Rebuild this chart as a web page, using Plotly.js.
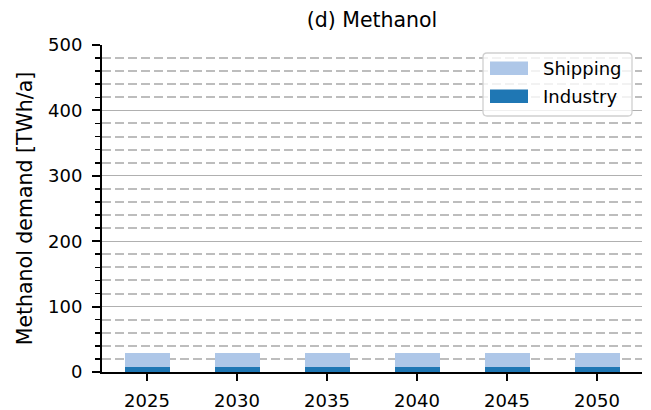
<!DOCTYPE html>
<html><head><meta charset="utf-8">
<script src="https://cdn.plot.ly/plotly-3.0.1.min.js"></script>
<style>body{margin:0;}#c{width:651px;height:410px;}</style>
</head><body><div id="c"></div>
<script>
const years = ["2025","2030","2035","2040","2045","2050"];
const industry = [7, 7, 7, 7, 7, 7];
const shipping = [22, 22, 22, 22, 22, 22];
const seriesNames = ["Industry", "Shipping"];
const colors = ["#1f77b4", "#aec7e8"];

const W = 651, H = 410, ML = 102, MR = 9, MT = 45, MB = 38;
const PW = W - ML - MR, PH = H - MT - MB;
const px = x => (x - ML) / PW;
const py = y => (H - MB - y) / PH;

const traces = [industry, shipping].map((v, i) => ({
  type: "bar", x: years, y: v, name: seriesNames[i],
  marker: {color: colors[i], line: {width: 0}}, width: 0.5, showlegend: false
}));

// legend drawn as shapes + text (matplotlib-style wide patches)
function roundRect(x0, y0, x1, y1, r) {
  const X = v => px(v), Y = v => py(v);
  return `M${X(x0 + r)},${Y(y0)} L${X(x1 - r)},${Y(y0)} Q${X(x1)},${Y(y0)} ${X(x1)},${Y(y0 + r)} ` +
    `L${X(x1)},${Y(y1 - r)} Q${X(x1)},${Y(y1)} ${X(x1 - r)},${Y(y1)} L${X(x0 + r)},${Y(y1)} ` +
    `Q${X(x0)},${Y(y1)} ${X(x0)},${Y(y1 - r)} L${X(x0)},${Y(y0 + r)} Q${X(x0)},${Y(y0)} ${X(x0 + r)},${Y(y0)} Z`;
}
const legendOrder = [1, 0];
const shapes = [{
  type: "path", xref: "paper", yref: "paper", path: roundRect(483, 53, 632, 116, 4),
  fillcolor: "rgba(255,255,255,0.8)", line: {color: "#d0d0d0", width: 1.3}
}];
const annotations = [];
legendOrder.forEach((si, k) => {
  const yc = 68.3 + k * 28;
  shapes.push({type: "rect", xref: "paper", yref: "paper",
    x0: px(490), x1: px(528), y0: py(yc - 6.7), y1: py(yc + 6.7),
    fillcolor: colors[si], line: {width: 0}});
  annotations.push({xref: "paper", yref: "paper", x: px(541), y: py(yc), xanchor: "left", yanchor: "middle",
    text: seriesNames[si], showarrow: false, font: {size: 18, color: "#000"}});
});

const layout = {
  width: W, height: H,
  margin: {l: ML, r: MR, t: MT, b: MB, pad: 0},
  barmode: "stack",
  paper_bgcolor: "white", plot_bgcolor: "white",
  font: {family: "DejaVu Sans", size: 18, color: "#000"},
  title: {text: "(d) Methanol", x: px(372), xref: "paper", xanchor: "center", y: 1 - 20 / H, yanchor: "middle", font: {size: 20.5}},
  xaxis: {type: "category", range: [-0.5, 5.5], showline: true, linecolor: "#000", linewidth: 2,
    ticks: "outside", ticklen: 7, tickcolor: "#000", tickwidth: 2, showgrid: false, zeroline: false,
    tickfont: {size: 18}, ticklabelstandoff: 4},
  yaxis: {range: [0, 500], dtick: 100, showline: true, linecolor: "#000", linewidth: 2,
    ticks: "outside", ticklen: 8, tickcolor: "#000", tickwidth: 2,
    showgrid: true, gridcolor: "#b0b0b0", gridwidth: 1, zeroline: false,
    minor: {dtick: 20, showgrid: true, gridcolor: "#bdbdbd", griddash: "9px,4px", gridwidth: 2,
      ticks: "outside", ticklen: 5, tickcolor: "#000", tickwidth: 1.6},
    title: {text: "Methanol demand [TWh/a]", font: {size: 20.5}, standoff: 10},
    tickfont: {size: 18}, ticklabelstandoff: 6},
  shapes: shapes,
  annotations: annotations,
  showlegend: false
};
Plotly.newPlot("c", traces, layout, {displayModeBar: false, staticPlot: true});
</script></body></html>
